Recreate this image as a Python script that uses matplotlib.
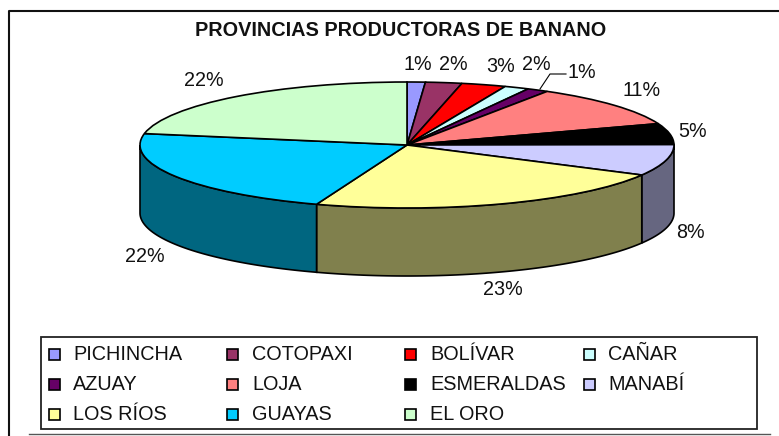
import numpy as np
import matplotlib
matplotlib.use("Agg")
import matplotlib.pyplot as plt
from matplotlib.patches import Rectangle

provinces = ["PICHINCHA", "COTOPAXI", "BOLÍVAR", "CAÑAR", "AZUAY", "LOJA",
             "ESMERALDAS", "MANABÍ", "LOS RÍOS", "GUAYAS", "EL ORO"]
shares = [1.1, 2.2, 2.7, 1.5, 1.3, 10.7, 5.4, 8.0, 22.6, 22.4, 22.1]
share_labels = ["1%", "2%", "3%", "2%", "1%", "11%", "5%", "8%", "23%", "22%", "22%"]
colors = ["#9999FF", "#993366", "#FF0000", "#CCFFFF", "#660066", "#FF8080",
          "#000000", "#CCCCFF", "#FFFF99", "#00CCFF", "#CCFFCC"]

W, H = 779, 436
CX, CY, RX, RY, DEPTH = 407, 145, 267, 63, 68

plt.rcParams["font.family"] = ["Liberation Sans", "DejaVu Sans"]
fig = plt.figure(figsize=(W / 100, H / 100), dpi=100)

# page-level axes in pixels for the frame, title, labels and legend
page = fig.add_axes([0, 0, 1, 1])
page.set_xlim(0, W)
page.set_ylim(H, 0)
page.axis("off")

page.plot([9, 9, W], [H, 11.5, 11.5], color="#111111", lw=1.5)
page.plot([29, 770], [434, 434], color="#555555", lw=1.0)
page.text(401, 31, "PROVINCIAS PRODUCTORAS DE BANANO", ha="center", va="center",
          fontsize=14.3, fontweight="bold", color="#111111")

# pie axes: data range -1..1 maps on the ellipse radii, extra room for the wall
pie_ax = fig.add_axes([(CX - RX) / W, 1 - (CY + RY + DEPTH) / H,
                       2 * RX / W, (2 * RY + DEPTH) / H])
pie_ax.patch.set_alpha(0)
wedges, _ = pie_ax.pie(shares, colors=colors, startangle=90, counterclock=False,
                       radius=1, wedgeprops={"edgecolor": "black", "linewidth": 1.2, "zorder": 3})
pie_ax.set_aspect("auto")
pie_ax.set_xlim(-1, 1)
pie_ax.set_ylim(-1 - DEPTH / RY, 1)
pie_ax.axis("off")
for w in wedges:
    w.set_clip_on(False)

# side wall, only the part of each slice facing the viewer
edges = np.cumsum([0] + shares) / sum(shares) * 2 * np.pi
depth = DEPTH / RY
for start, end, col in zip(edges[:-1], edges[1:], colors):
    a = max(start, np.pi / 2)
    b = min(end, 3 * np.pi / 2)
    if b <= a:
        continue
    t = np.linspace(a, b, 80)
    x = np.sin(t)
    y = np.cos(t)
    wall = tuple(0.5 * c for c in matplotlib.colors.to_rgb(col))
    pie_ax.fill(np.r_[x, x[::-1]], np.r_[y, y[::-1] - depth], facecolor=wall,
                edgecolor="black", lw=1.2, zorder=1, clip_on=False)

# percentage labels, placed where the reference has them
label_x = [418, 453, 501, 536, 582, 642, 693, 690, 503, 145, 204]
label_y = [64, 64, 67, 65, 73, 91, 131, 232, 289, 256, 81]
for x, y, s in zip(label_x, label_y, share_labels):
    page.text(x, y, s, ha="center", va="center", fontsize=14.2, color="#111111")
page.plot([540, 550, 566], [89, 74, 74], color="black", lw=0.8, zorder=5)

# legend
page.add_patch(Rectangle((41.5, 337), 715.5, 92, facecolor="white", edgecolor="#222222", lw=1.3))
col_x = [55, 233, 411, 590]
row_y = [354, 384, 414]
text_x = [73, 252, 430, 608]
for i, (name, col) in enumerate(zip(provinces, colors)):
    x = col_x[i % 4]
    y = row_y[i // 4]
    page.add_patch(Rectangle((x - 5.5, y - 5.5), 11, 11, facecolor=col, edgecolor="black", lw=1.2))
    page.text(text_x[i % 4], y, name, ha="left", va="center", fontsize=14.3, color="#111111")

fig.savefig("out.png", dpi=100)
